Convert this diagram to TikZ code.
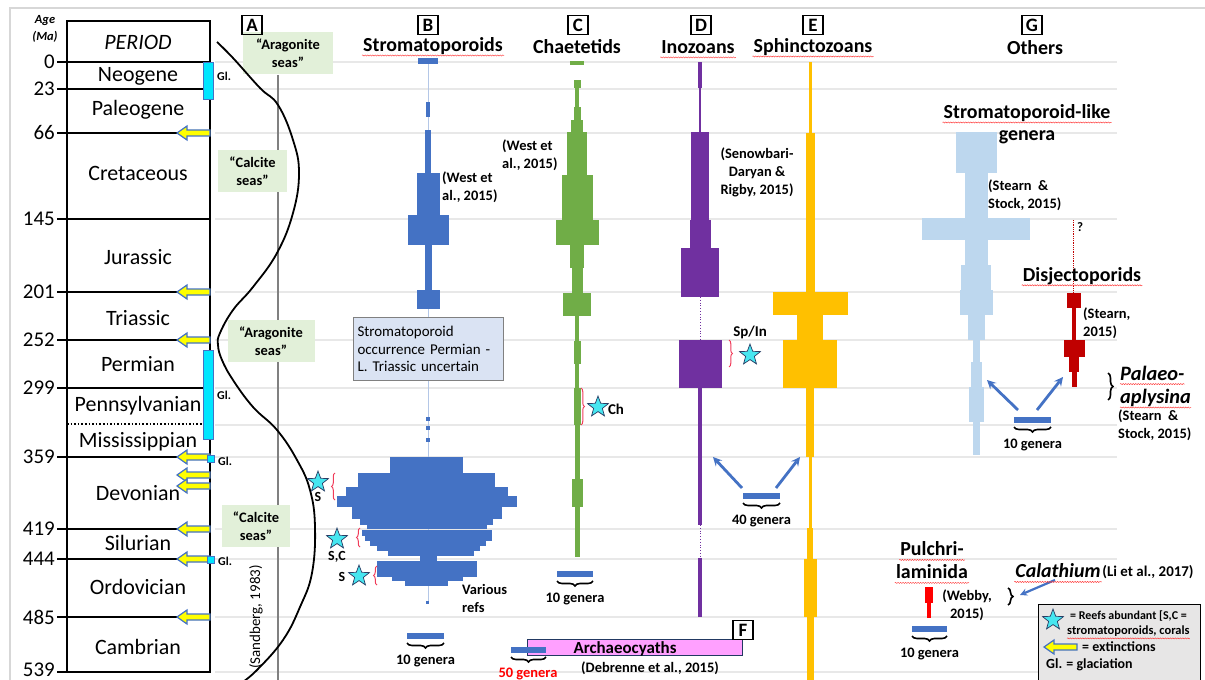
\documentclass[tikz,border=0pt]{standalone}
\usepackage{fontspec}
\setmainfont{Carlito}
\usepackage{tikz}
\usetikzlibrary{shapes.geometric, arrows, decorations.pathreplacing, decorations.pathmorphing}
\usepackage{xcolor}

\definecolor{stromblue}{RGB}{68,114,196}
\definecolor{chaetgreen}{RGB}{112,173,71}
\definecolor{inopurple}{RGB}{112,48,160}
\definecolor{sphinxgold}{RGB}{255,192,0}
\definecolor{likeblue}{RGB}{189,215,238}
\definecolor{disjred}{RGB}{192,0,0}
\definecolor{pulchred}{RGB}{255,0,0}
\definecolor{faintblue}{RGB}{180,199,231}
\definecolor{gridgray}{RGB}{232,232,232}
\definecolor{framegray}{RGB}{215,215,215}
\definecolor{seagreen}{RGB}{226,240,217}
\definecolor{notefill}{RGB}{218,227,243}
\definecolor{archpink}{RGB}{255,160,255}
\definecolor{legendgray}{RGB}{231,230,230}
\definecolor{glcyan}{RGB}{0,230,255}
\definecolor{starcyan}{RGB}{70,230,240}
\definecolor{stardark}{RGB}{40,60,100}
\definecolor{bracered}{RGB}{240,60,90}
\definecolor{extyellow}{RGB}{255,255,0}

\tikzstyle{boundary} = [line width=2.2bp]
\tikzstyle{gridline} = [line width=1.2bp, gridgray]
\tikzstyle{period} = [font=\fontsize{22}{24}\selectfont]
\tikzstyle{agelabel} = [anchor=east, inner sep=0pt, font=\fontsize{21}{23}\selectfont]
\tikzstyle{extarrow} = [fill=extyellow, draw=stromblue, line width=1.2bp]
\tikzstyle{glbar} = [fill=glcyan, draw=stromblue, line width=0.8bp]
\tikzstyle{gltext} = [anchor=west, inner sep=0pt, font=\bfseries\fontsize{12}{14}\selectfont]
\tikzstyle{seabox} = [fill=seagreen, align=center, inner sep=0pt, font=\bfseries\fontsize{14.5}{18}\selectfont]
\tikzstyle{letterbox} = [draw, line width=1.3bp, inner sep=0pt, minimum width=20bp, minimum height=19bp, font=\bfseries\fontsize{19}{20}\selectfont]
\tikzstyle{header} = [inner sep=1bp, font=\bfseries\fontsize{20}{22}\selectfont]
\tikzstyle{bigname} = [inner sep=1bp, font=\bfseries\fontsize{20}{23}\selectfont]
\tikzstyle{cite} = [inner sep=0pt, align=left, font=\bfseries\fontsize{14.5}{18}\selectfont]
\tikzstyle{genera} = [inner sep=0pt, font=\bfseries\fontsize{14.5}{16}\selectfont]
\tikzstyle{reef} = [star, star points=5, star point ratio=2.4, fill=starcyan, draw=stardark, line width=0.7bp, minimum size=22bp, inner sep=0pt]
\tikzstyle{reeftext} = [inner sep=0pt, font=\bfseries\fontsize{14}{16}\selectfont]
\tikzstyle{redbrace} = [decorate, decoration={brace, amplitude=3.5bp}, bracered, line width=1bp]
\tikzstyle{blackbrace} = [decorate, decoration={brace, amplitude=5bp}, line width=1.6bp]
\tikzstyle{genarrow} = [line width=2.8bp, ->, >=stealth, stromblue]
\tikzstyle{spellchk} = [decorate, decoration={snake, segment length=2.5bp, amplitude=0.6bp}, red!80, line width=0.4bp]

\begin{document}
\begin{tikzpicture}[x=1bp, y=-1bp]
		\useasboundingbox (0,0) rectangle (1205,680);
		\draw[framegray, line width=2.5bp] (10,690) -- (10,8) -- (1210,8);

		\foreach \y in {62,89,133,219,292,340,388,425,457,529,559,617,672}
			\draw[gridline] (215,\y) -- (1117,\y);

		\foreach \a/\y in {0/62,23/89,66/133,145/219,201/292,252/340,299/388,359/457,419/529,444/559,485/617,539/672}{
			\draw[boundary] (57,\y) -- (210,\y);
			\node[agelabel] (age\a) at (55,{min(\y,670)}) {\a};
		}
		\draw[line width=2.5bp] (67,21) rectangle (210,672);
		\draw[dotted, line width=1.6bp] (67,424) -- (203,424);

		\node[font=\bfseries\itshape\fontsize{12.5}{14}\selectfont] (agehead) at (45,21) {Age};
		\node[font=\bfseries\itshape\fontsize{12.5}{14}\selectfont] (mahead) at (45,37) {(Ma)};
		\node[font=\itshape\fontsize{22}{24}\selectfont] (periodhead) at (138,42) {PERIOD};

		\foreach \name/\y in {Neogene/76,Paleogene/110,Cretaceous/173,Jurassic/257,Triassic/318,Permian/364,Pennsylvanian/406,Mississippian/442,Devonian/493,Silurian/543,Ordovician/587,Cambrian/647}
			\node[period] (\name) at (138,\y) {\name};

		\foreach \y in {133,292,340,457,475,486,529,559,617}
			\draw[extarrow] (210,\y-3) -- (187,\y-3) -- (187,\y-7) -- (177,\y) -- (187,\y+7) -- (187,\y+3) -- (210,\y+3) -- cycle;

		\draw[glbar] (203,62) rectangle (213,99);
		\draw[glbar] (203,350) rectangle (213,439);
		\draw[glbar] (207,455) rectangle (214,462);
		\draw[glbar] (207,556) rectangle (214,563);
		\node[gltext] (gl1) at (217,76) {Gl.};
		\node[gltext] (gl2) at (217,395) {Gl.};
		\node[gltext] (gl3) at (218,461) {Gl.};
		\node[gltext] (gl4) at (218,561) {Gl.};

		\draw[gray, line width=1.2bp] (278,75) -- (278,685);
		\node[seabox, minimum width=90bp, minimum height=42bp] (arag1) at (288,53) {“Aragonite\\seas”};
		\node[seabox, minimum width=69bp, minimum height=42bp] (calc1) at (252.5,171) {“Calcite\\seas”};
		\node[seabox, minimum width=87bp, minimum height=42bp] (arag2) at (271,341) {“Aragonite\\seas”};
		\node[seabox, minimum width=68bp, minimum height=42bp] (calc2) at (256,526) {“Calcite\\seas”};
		\draw[line width=1.8bp] plot[smooth, tension=0.7] coordinates {(217,42) (233,58) (260,88) (278,105) (293,140) (299,173) (293,213) (277,253) (253,287) (233,310) (220,333) (218,345) (222,360) (233,380) (253,407) (277,430) (297,460) (310,490) (315,527) (312,573) (300,607) (283,640) (257,670) (240,684)};
		\node[rotate=90, font=\fontsize{15}{17}\selectfont] (sandberg) at (256,617) {(Sandberg, 1983)};

		\node[letterbox] (boxA) at (252,25) {A};
		\node[letterbox] (boxB) at (428,25) {B};
		\node[letterbox] (boxC) at (578,25) {C};
		\node[letterbox] (boxD) at (701,25) {D};
		\node[letterbox] (boxE) at (813,25) {E};
		\node[letterbox] (boxG) at (1032,25) {G};
		\node[header] (hdrB) at (433,46) {Stromatoporoids};
		\node[header] (hdrC) at (577,47) {Chaetetids};
		\node[header] (hdrD) at (698,47) {Inozoans};
		\node[header] (hdrE) at (813,47) {Sphinctozoans};
		\node[header] (hdrG) at (1035,48) {Others};

		\draw[faintblue, line width=0.8bp] (428,64) -- (428,603);
		\foreach \ya/\yb/\w in {58/64/20,102/117/4,130/173/6,173/215/23,215/245/41,245/290/7,290/309/23}
			\fill[stromblue] (428-\w/2,\ya) rectangle (428+\w/2,\yb);
		\foreach \xa/\xb/\ya/\yb in {390/463/457/474,358/495/473/488,346/508/487/497,337/517/496/507,352/502/506/519,360/493/518/525,367/487/524/529,362/492/530/536,365/492/535/541,370/486/540/546,377/480/545/551,388/474/550/556,420/437/555/562,377/477/561/577,392/463/576/581,405/448/580/586}
			\fill[stromblue] (\xa,\ya) rectangle (\xb,\yb);
		\foreach \y in {419,428,440}
			\fill[stromblue] (425.5,\y-2) rectangle (429.5,\y+2);
		\fill[stromblue] (426,601) rectangle (429,604);
		\node[draw=gray, fill=notefill, line width=1bp, anchor=north west, text width=142bp, inner sep=4bp, minimum height=63bp, align=left, font=\fontsize{15}{17.5}\selectfont] (stromnote) at (353,317) {Stromatoporoid\\occurrence Permian -\\L. Triassic uncertain};
		\node[cite, anchor=west] (westB) at (442,187.5) {(West et\\al., 2015)};
		\node[cite, anchor=west] (various) at (462,598.5) {Various\\refs};

		\foreach \ya/\yb/\w in {61/65/14,80/88/7,88/107/4,107/120/7,120/132/12,132/175/20,175/220/31,220/245/43,245/268/14,268/293/11,293/316/28,316/341/4,341/364/7,364/388/4,388/425/7,425/479/5,479/507/11,507/557/5}
			\fill[chaetgreen] (577-\w/2,\ya) rectangle (577+\w/2,\yb);
		\node[cite, anchor=west] (westC) at (502,155.5) {(West et\\al., 2015)};

		\foreach \ya/\yb/\w in {62/88/4,88/132/2,132/220/18,220/248/21,248/297/38,340/388/43,388/525/4,558/617/4}
			\fill[inopurple] (700-\w/2,\ya) rectangle (700+\w/2,\yb);
		\draw[inopurple, dotted, line width=0.8bp] (700,297) -- (700,340);
		\draw[inopurple, dotted, line width=0.8bp] (700,525) -- (700,558);
		\node[cite, align=center] (senow) at (757,172.5) {(Senowbari-\\Daryan \&\\Rigby, 2015)};

		\foreach \ya/\yb/\w in {62/133/3,133/292/9,292/315/75,315/340/26,340/388/54,388/457/8,457/528/3,528/559/6,559/617/13,617/680/7}
			\fill[sphinxgold] (810-\w/2,\ya) rectangle (810+\w/2,\yb);

		\foreach \ya/\yb/\w in {132/173/41,173/218/23,218/240/108,240/265/23,265/290/30,290/315/33,315/340/17,340/362/7,362/387/11,387/422/15,422/455/7}
			\fill[likeblue] (976-\w/2,\ya) rectangle (976+\w/2,\yb);
		\node[bigname] (like1) at (1027,113) {Stromatoporoid-like};
		\node[bigname] (like2) at (1027,137) {genera};
		\node[cite, anchor=west] (stearn1) at (988,195.5) {(Stearn \ \&\\Stock, 2015)};

		\draw[disjred, densely dotted, line width=0.8bp] (1073,220) -- (1073,293);
		\node[font=\bfseries\fontsize{13}{15}\selectfont] (query) at (1080,227) {?};
		\foreach \ya/\yb/\w in {293/308/14,308/340/4,340/357/21,357/372/10,372/387/5}
			\fill[disjred] (1074-\w/2,\ya) rectangle (1074+\w/2,\yb);
		\node[bigname] (disjname) at (1082,276) {Disjectoporids};
		\node[cite, anchor=west] (stearn2) at (1083,323.5) {(Stearn,\\2015)};

		\draw[blackbrace] (1108,373) -- (1108,400);
		\node[bigname, anchor=west, inner sep=0pt, font=\bfseries\itshape\fontsize{20.5}{23}\selectfont] (palaeo1) at (1120,373) {Palaeo-};
		\node[bigname, anchor=west, inner sep=0pt, font=\bfseries\itshape\fontsize{20.5}{23}\selectfont] (palaeo2) at (1120,398) {aplysina};
		\node[cite, anchor=west] (stearn3) at (1118,425) {(Stearn \ \&\\Stock, 2015)};

		\node[bigname] (pulch1) at (932,549) {Pulchri-};
		\node[bigname] (pulch2) at (932,572) {laminida};
		\foreach \ya/\yb/\w in {587/603/8,603/618/4}
			\fill[pulchred] (929-\w/2,\ya) rectangle (929+\w/2,\yb);
		\node[cite, align=center] (webby) at (967,605.5) {(Webby,\\2015)};

		\node[bigname, font=\bfseries\itshape\fontsize{20}{23}\selectfont] (calname) at (1058,571) {Calathium};
		\node[font=\bfseries\fontsize{15}{17}\selectfont] (calcite) at (1148,572) {(Li et al., 2017)};
		\draw[blackbrace] (1008,588) -- (1008,605);

		\node[draw=stromblue!50!black, fill=archpink, line width=0.8bp, minimum width=215bp, minimum height=16bp, inner sep=0pt] (archbox) at (634.5,647) {};
		\node[font=\bfseries\fontsize{17}{19}\selectfont] (archname) at (625,649) {Archaeocyaths};
		\node[cite] (debrenne) at (650,668) {(Debrenne et al., 2015)};
		\node[letterbox, fill=white] (boxF) at (743,630) {F};
		\fill[stromblue] (511,647) rectangle (546,653);
		\draw[blackbrace] (546,657) -- (511,657);
		\node[genera, text=red] (gen50) at (528,674) {50 genera};

		\foreach \xa/\xb/\yt/\lab [count=\i] in {407/444/633/10,557/593/571/10,743/780/493/40,1014/1051/417/10,912/947/626/10}{
			\fill[stromblue] (\xa,\yt) rectangle (\xb,\yt+6);
			\draw[blackbrace] (\xb,\yt+10) -- (\xa,\yt+10);
			\node[genera] (gen\i) at ({(\xa+\xb)/2},\yt+28) {\lab\ genera};
		}

		\coordinate (ino40) at (742,488);
		\coordinate (sph40) at (776,488);
		\coordinate (inotip) at (713,457);
		\coordinate (sphtip) at (800,457);
		\draw[genarrow] (ino40) -- (inotip);
		\draw[genarrow] (sph40) -- (sphtip);
		\coordinate (like10) at (1018,410);
		\coordinate (disj10) at (1037,410);
		\coordinate (liketip) at (987,380);
		\coordinate (disjtip) at (1063,377);
		\draw[genarrow] (like10) -- (liketip);
		\draw[genarrow] (disj10) -- (disjtip);
		\coordinate (calfrom) at (1055,580);
		\coordinate (caltip) at (1020,595);
		\draw[genarrow, line width=2.2bp] (calfrom) -- (caltip);

		\draw[redbrace] (335,500) -- (335,473);
		\draw[redbrace] (360,547) -- (360,528);
		\draw[redbrace] (377,585) -- (377,566);
		\draw[redbrace] (581,388) -- (581,425);
		\draw[redbrace] (729,340) -- (729,367);
		\node[reef] (starD) at (318,482) {};
		\node[reef] (starS) at (337,539) {};
		\node[reef] (starO) at (359,576) {};
		\node[reef] (starC) at (598,407) {};
		\node[reef] (starI) at (750,355) {};
		\node[reeftext] (labD) at (318,497) {S};
		\node[reeftext] (labS) at (337,557) {S,C};
		\node[reeftext] (labO) at (342,577) {S};
		\node[reeftext, font=\bfseries\fontsize{15}{17}\selectfont] (labC) at (616,409) {Ch};
		\node[reeftext, font=\bfseries\fontsize{15}{17}\selectfont] (labI) at (750,332) {Sp/In};

		\node[draw, fill=legendgray, line width=1.2bp, minimum width=162bp, minimum height=85bp, anchor=north west, inner sep=0pt] (legend) at (1038,604) {};
		\node[reef] (starL) at (1053,620) {};
		\node[anchor=west, inner sep=0pt, font=\bfseries\fontsize{12}{14}\selectfont] (leg1) at (1070,616) {= Reefs abundant [S,C =};
		\node[anchor=west, inner sep=0pt, font=\bfseries\fontsize{12.5}{14}\selectfont] (leg2) at (1067,631) {stromatoporoids, corals};
		\draw[extarrow] (1077,644) -- (1054,644) -- (1054,640) -- (1044,647) -- (1054,654) -- (1054,650) -- (1077,650) -- cycle;
		\node[anchor=west, inner sep=0pt, font=\bfseries\fontsize{14}{16}\selectfont] (leg3) at (1082,647) {= extinctions};
		\node[anchor=west, inner sep=0pt, font=\bfseries\fontsize{14}{16}\selectfont] (leg4) at (1046,665) {Gl. = glaciation};

		\foreach \n in {hdrB,hdrD,hdrE,like1,disjname,pulch1,pulch2,palaeo1,palaeo2,calname,leg2}
			\draw[spellchk] ([yshift=-4bp]\n.base west) -- ([yshift=-4bp]\n.base east);

	\end{tikzpicture}
\end{document}
